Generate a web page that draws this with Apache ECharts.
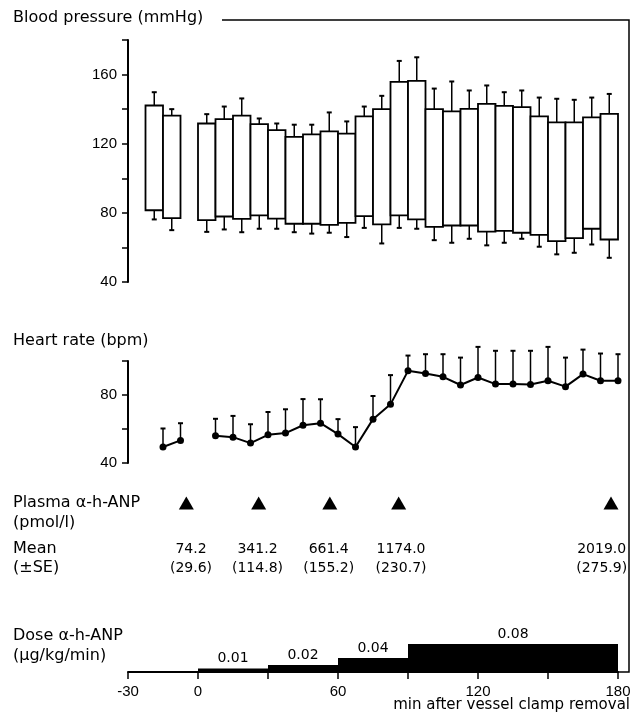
<!DOCTYPE html>
<html>
<head>
<meta charset="utf-8">
<script src="https://cdn.jsdelivr.net/npm/echarts@6/dist/echarts.min.js"></script>
<style>
  html, body { margin: 0; padding: 0; background: #fff; }
  #chart { width: 638px; height: 719px; }
</style>
</head>
<body>
<div id="chart"></div>
<script>
// ---- Data ----
// Sample times (min after vessel clamp removal)
var times = [-15, -7.5, 7.5, 15, 22.5, 30, 37.5, 45, 52.5, 60, 67.5, 75, 82.5, 90, 97.5, 105, 112.5, 120, 127.5, 135, 142.5, 150, 157.5, 165, 172.5, 180];
// Blood pressure (mmHg): systolic / diastolic means and SE
var sysMean = [142.1, 136.2, 131.7, 134.2, 136.2, 131.3, 127.9, 124.0, 125.4, 127.1, 125.8, 135.8, 140.0, 155.8, 156.3, 140.0, 138.7, 140.2, 143.1, 141.9, 141.2, 135.8, 132.3, 132.3, 135.2, 137.3];
var sysSE   = [7.7, 3.8, 5.4, 7.3, 10.0, 3.3, 3.8, 7.0, 5.6, 11.0, 7.1, 5.7, 7.7, 12.1, 13.7, 11.9, 17.3, 10.6, 10.6, 7.9, 9.6, 10.9, 13.7, 13.1, 11.5, 11.5];
var diaMean = [81.5, 76.9, 75.8, 77.9, 76.5, 78.5, 76.7, 73.7, 73.7, 73.1, 74.2, 78.1, 73.3, 78.5, 76.2, 71.9, 72.7, 72.7, 69.2, 69.6, 68.5, 67.3, 63.7, 65.4, 70.8, 64.6];
var diaSE   = [5.3, 6.9, 6.8, 7.5, 7.7, 7.7, 5.9, 4.9, 5.7, 4.6, 8.2, 6.8, 11.0, 7.2, 5.4, 7.7, 10.0, 7.7, 8.0, 6.9, 3.5, 6.9, 7.7, 8.5, 9.1, 10.6];
// Heart rate (bpm): mean and SE
var hrMean = [49.4, 53.3, 56.0, 55.2, 51.7, 56.6, 57.6, 62.2, 63.4, 57.0, 49.4, 65.8, 74.5, 94.2, 92.7, 90.7, 85.9, 90.3, 86.4, 86.4, 86.2, 88.4, 84.9, 92.3, 88.4, 88.4];
var hrSE   = [10.9, 10.1, 10.0, 12.5, 11.1, 13.4, 14.0, 15.4, 14.1, 8.8, 11.7, 13.6, 17.2, 9.0, 11.3, 13.3, 16.1, 18.0, 19.6, 19.6, 19.8, 19.9, 17.1, 14.4, 16.0, 15.6];
// Plasma alpha-h-ANP samples (pmol/l)
var plasmaTimes = [-5, 26, 56.5, 86, 177];
var plasmaLabelTimes = [-3, 25.5, 56, 87, 173];
var plasmaMean = ['74.2', '341.2', '661.4', '1174.0', '2019.0'];
var plasmaSE   = ['29.6', '114.8', '155.2', '230.7', '275.9'];
// Infusion dose steps (µg/kg/min)
var doseStart = [0, 30, 60, 90];
var doseEnd   = [30, 60, 90, 180];
var doseValue = [0.01, 0.02, 0.04, 0.08];
var doseLabel = ['0.01', '0.02', '0.04', '0.08'];
// Axis ticks
var xMin = -30, xMax = 180, xTickStep = 30;
var xLabelTicks = [-30, 0, 60, 120, 180];
var binWidth = 7.5;

// ---- Chart ----
var INK = '#000';
var NUM_FONT = 'Liberation Sans';
var TXT_FONT = 'DejaVu Sans';
var chart = echarts.init(document.getElementById('chart'), null, { renderer: 'canvas' });

var bpData = times.map(function (t, i) { return [t, sysMean[i], diaMean[i], sysSE[i], diaSE[i]]; });
var hrPre = [], hrPost = [], hrErr = [];
times.forEach(function (t, i) {
  (t < 0 ? hrPre : hrPost).push([t, hrMean[i]]);
  hrErr.push([t, hrMean[i], hrSE[i]]);
});
var doseData = doseStart.map(function (s, i) { return [s, doseEnd[i], doseValue[i]]; });

function yAxisCommon(gridIndex, min, max) {
  return {
    type: 'value', gridIndex: gridIndex, min: min, max: max, interval: 20,
    axisLine: { show: true, onZero: false, lineStyle: { color: INK, width: 2 } },
    axisTick: { show: true, length: 6, lineStyle: { color: INK, width: 1.5 } },
    axisLabel: {
      margin: 11, color: INK, fontFamily: NUM_FONT, fontSize: 15,
      formatter: function (v) { return v % 40 === 0 ? String(v) : ''; }
    },
    splitLine: { show: false }
  };
}
function xAxisHidden(gridIndex) {
  return { type: 'value', gridIndex: gridIndex, min: xMin, max: xMax, interval: xTickStep, show: false,
           axisLine: { onZero: false } };
}

var option = {
  animation: false,
  backgroundColor: '#fff',
  grid: [
    { left: 128, right: 20, top: 40, height: 242 },
    { left: 128, right: 20, top: 361, height: 102 },
    { left: 128, right: 20, top: 480, height: 100 },
    { left: 128, right: 20, top: 644, height: 28 }
  ],
  xAxis: [
    xAxisHidden(0),
    xAxisHidden(1),
    xAxisHidden(2),
    {
      type: 'value', gridIndex: 3, min: xMin, max: xMax, interval: xTickStep,
      axisLine: { show: true, onZero: false, lineStyle: { color: INK, width: 2 } },
      axisTick: { show: true, length: 7, lineStyle: { color: INK, width: 1.5 } },
      axisLabel: {
        margin: 12, color: INK, fontFamily: NUM_FONT, fontSize: 15,
        formatter: function (v) { return xLabelTicks.indexOf(v) >= 0 ? String(v) : ''; }
      },
      splitLine: { show: false }
    }
  ],
  yAxis: [
    yAxisCommon(0, 40, 180),
    yAxisCommon(1, 40, 100),
    { type: 'value', gridIndex: 2, min: 0, max: 100, show: false, axisLine: { onZero: false } },
    { type: 'value', gridIndex: 3, min: 0, max: 0.08, show: false, axisLine: { onZero: false } }
  ],
  series: [
    {
      type: 'custom', name: 'Blood pressure', xAxisIndex: 0, yAxisIndex: 0,
      data: bpData, encode: { x: 0, y: [1, 2] }, clip: false,
      renderItem: function (params, api) {
        var t = api.value(0), s = api.value(1), d = api.value(2), se1 = api.value(3), se2 = api.value(4);
        var p1 = api.coord([t - binWidth, s]);
        var p2 = api.coord([t, d]);
        var cx = (p1[0] + p2[0]) / 2;
        var yTop = api.coord([t, s + se1])[1];
        var yBot = api.coord([t, d - se2])[1];
        var cap = 2.5;
        var ls = { stroke: INK, lineWidth: 1.5 };
        return {
          type: 'group', children: [
            { type: 'line', shape: { x1: cx, y1: p1[1], x2: cx, y2: yTop }, style: ls },
            { type: 'line', shape: { x1: cx - cap, y1: yTop, x2: cx + cap, y2: yTop }, style: { stroke: INK, lineWidth: 2 } },
            { type: 'line', shape: { x1: cx, y1: p2[1], x2: cx, y2: yBot }, style: ls },
            { type: 'line', shape: { x1: cx - cap, y1: yBot, x2: cx + cap, y2: yBot }, style: { stroke: INK, lineWidth: 2 } },
            { type: 'rect', shape: { x: p1[0], y: p1[1], width: p2[0] - p1[0], height: p2[1] - p1[1] },
              style: { fill: '#fff', stroke: INK, lineWidth: 1.8 } }
          ]
        };
      }
    },
    {
      type: 'custom', name: 'HR error', xAxisIndex: 1, yAxisIndex: 1,
      data: hrErr, encode: { x: 0, y: 1 }, clip: false,
      renderItem: function (params, api) {
        var t = api.value(0), m = api.value(1), se = api.value(2);
        var p = api.coord([t, m]);
        var yTop = api.coord([t, m + se])[1];
        return {
          type: 'group', children: [
            { type: 'line', shape: { x1: p[0], y1: p[1], x2: p[0], y2: yTop }, style: { stroke: INK, lineWidth: 1.5 } },
            { type: 'line', shape: { x1: p[0] - 2.5, y1: yTop, x2: p[0] + 2.5, y2: yTop }, style: { stroke: INK, lineWidth: 2 } }
          ]
        };
      }
    },
    {
      type: 'line', name: 'Heart rate (pre)', xAxisIndex: 1, yAxisIndex: 1, data: hrPre, clip: false,
      symbol: 'circle', symbolSize: 7, lineStyle: { color: INK, width: 2 }, itemStyle: { color: INK, opacity: 1 }
    },
    {
      type: 'line', name: 'Heart rate', xAxisIndex: 1, yAxisIndex: 1, data: hrPost, clip: false,
      symbol: 'circle', symbolSize: 7, lineStyle: { color: INK, width: 2 }, itemStyle: { color: INK, opacity: 1 }
    },
    {
      type: 'scatter', name: 'Plasma samples', xAxisIndex: 2, yAxisIndex: 2, clip: false,
      data: plasmaTimes.map(function (t) { return [t, 77]; }),
      symbol: 'triangle', symbolSize: [15, 13], itemStyle: { color: INK, opacity: 1 }
    },
    {
      type: 'scatter', name: 'Plasma mean', xAxisIndex: 2, yAxisIndex: 2, clip: false,
      data: plasmaLabelTimes.map(function (t, i) { return { value: [t, 31], name: plasmaMean[i] }; }),
      symbolSize: 0, itemStyle: { opacity: 1 },
      label: { show: true, position: 'inside', formatter: '{b}', color: INK, fontFamily: TXT_FONT, fontSize: 14 }
    },
    {
      type: 'scatter', name: 'Plasma SE', xAxisIndex: 2, yAxisIndex: 2, clip: false,
      data: plasmaLabelTimes.map(function (t, i) { return { value: [t, 12], name: '(' + plasmaSE[i] + ')' }; }),
      symbolSize: 0, itemStyle: { opacity: 1 },
      label: { show: true, position: 'inside', formatter: '{b}', color: INK, fontFamily: TXT_FONT, fontSize: 14 }
    },
    {
      type: 'custom', name: 'Dose', xAxisIndex: 3, yAxisIndex: 3, clip: false,
      data: doseData, encode: { x: [0, 1], y: 2 },
      renderItem: function (params, api) {
        var s = api.value(0), e = api.value(1), v = api.value(2);
        var lab = doseLabel[params.dataIndex];
        var p1 = api.coord([s, v]);
        var p2 = api.coord([e, 0]);
        return {
          type: 'group', children: [
            { type: 'rect', shape: { x: p1[0], y: p1[1], width: p2[0] - p1[0], height: p2[1] - p1[1] }, style: { fill: INK } },
            { type: 'text', x: (p1[0] + p2[0]) / 2, y: p1[1] - 3,
              style: { text: lab, textAlign: 'center', textVerticalAlign: 'bottom', fill: INK, font: '14px "' + TXT_FONT + '"' } }
          ]
        };
      }
    }
  ],
  graphic: [
    { type: 'polyline', shape: { points: [[222, 20], [629, 20], [629, 672], [617, 672]] },
      style: { stroke: INK, lineWidth: 1.5, fill: null } },
    { type: 'text', left: 13, top: 10, style: { text: 'Blood pressure (mmHg)', fill: INK, font: '16px "DejaVu Sans"' } },
    { type: 'text', left: 13, top: 333, style: { text: 'Heart rate (bpm)', fill: INK, font: '16px "DejaVu Sans"' } },
    { type: 'text', left: 13, top: 495, style: { text: 'Plasma α-h-ANP', fill: INK, font: '16px "DejaVu Sans"' } },
    { type: 'text', left: 13, top: 515, style: { text: '(pmol/l)', fill: INK, font: '16px "DejaVu Sans"' } },
    { type: 'text', left: 13, top: 541, style: { text: 'Mean', fill: INK, font: '16px "DejaVu Sans"' } },
    { type: 'text', left: 13, top: 560, style: { text: '(±SE)', fill: INK, font: '16px "DejaVu Sans"' } },
    { type: 'text', left: 13, top: 628, style: { text: 'Dose α-h-ANP', fill: INK, font: '16px "DejaVu Sans"' } },
    { type: 'text', left: 13, top: 648, style: { text: '(µg/kg/min)', fill: INK, font: '16px "DejaVu Sans"' } },
    { type: 'text', right: 8, top: 698, style: { text: 'min after vessel clamp removal', fill: INK, font: '15px "DejaVu Sans"' } }
  ]
};
chart.setOption(option);
</script>
</body>
</html>
